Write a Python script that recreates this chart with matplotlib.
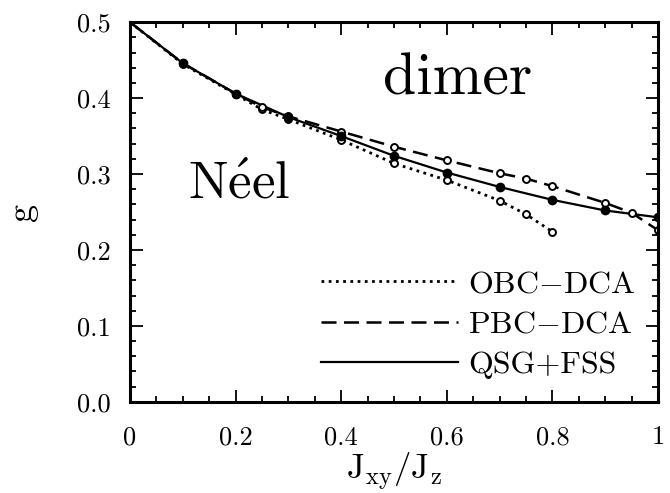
import numpy as np
import matplotlib
matplotlib.use('Agg')
import matplotlib.pyplot as plt
from matplotlib.ticker import MultipleLocator, FuncFormatter

plt.rcParams['font.family'] = 'cmr10'
plt.rcParams['mathtext.fontset'] = 'cm'
plt.rcParams['axes.unicode_minus'] = False

# data
obc_x = [0, 0.1, 0.2, 0.25, 0.3, 0.4, 0.5, 0.6, 0.7, 0.75, 0.8]
obc_y = [0.5, 0.445, 0.405, 0.385, 0.372, 0.345, 0.314, 0.292, 0.265, 0.247, 0.224]

pbc_x = [0, 0.1, 0.2, 0.25, 0.3, 0.4, 0.5, 0.6, 0.7, 0.75, 0.8, 0.9, 0.95, 1.0]
pbc_y = [0.5, 0.446, 0.406, 0.388, 0.376, 0.356, 0.336, 0.318, 0.301, 0.294, 0.284, 0.262, 0.249, 0.226]

qsg_x = [0, 0.1, 0.2, 0.3, 0.4, 0.5, 0.6, 0.7, 0.8, 0.9, 1.0]
qsg_y = [0.5, 0.446, 0.406, 0.375, 0.35, 0.324, 0.302, 0.283, 0.266, 0.252, 0.243]

fig = plt.figure(figsize=(6.7, 4.93), dpi=100)
ax = fig.add_axes([0.194, 0.185, 0.788, 0.77])

ax.plot(obc_x, obc_y, ls=(0, (1, 1.6)), color='k', lw=2.0, label=r'OBC$-$DCA')
ax.plot(pbc_x, pbc_y, ls=(0, (6, 3)), color='k', lw=1.8, label=r'PBC$-$DCA')
ax.plot(qsg_x, qsg_y, ls='-', color='k', lw=1.6, label='QSG+FSS')

ax.plot(obc_x[1:], obc_y[1:], 'o', mfc='white', mec='k', ms=5, mew=1.4, ls='none')
ax.plot(pbc_x[1:], pbc_y[1:], 'o', mfc='white', mec='k', ms=5, mew=1.4, ls='none')
ax.plot(qsg_x[1:], qsg_y[1:], 'o', mfc='k', mec='k', ms=6, ls='none')

ax.set_xlim(0, 1)
ax.set_ylim(0, 0.5)
ax.xaxis.set_major_locator(MultipleLocator(0.2))
ax.xaxis.set_minor_locator(MultipleLocator(0.05))
ax.yaxis.set_major_locator(MultipleLocator(0.1))
ax.yaxis.set_minor_locator(MultipleLocator(0.02))
ax.xaxis.set_major_formatter(FuncFormatter(lambda v, p: '%g' % round(v, 2)))
ax.yaxis.set_major_formatter(FuncFormatter(lambda v, p: '%.1f' % v))
ax.tick_params(which='both', direction='in', top=True, right=True, labelsize=19, width=1.3)
ax.tick_params(axis='x', which='major', length=9, pad=17)
ax.tick_params(axis='y', which='major', length=9, pad=14)
ax.tick_params(which='minor', length=4)
for s in ax.spines.values():
    s.set_linewidth(2.2)

ax.set_xlabel(r'$\mathrm{J_{xy}/J_z}$', fontsize=25, labelpad=1)
ax.set_ylabel('g', fontsize=26, labelpad=28)

ax.text(0.48, 0.425, 'dimer', fontsize=43, va='center')
ax.text(0.11, 0.285, r'N$\acute{\mathrm{e}}$el', fontsize=38, va='center')

ax.legend(loc='lower right', frameon=False, fontsize=23, handlelength=4.3,
          handletextpad=0.3, labelspacing=0.38, borderaxespad=0.3)

fig.savefig('out.png', dpi=100)
